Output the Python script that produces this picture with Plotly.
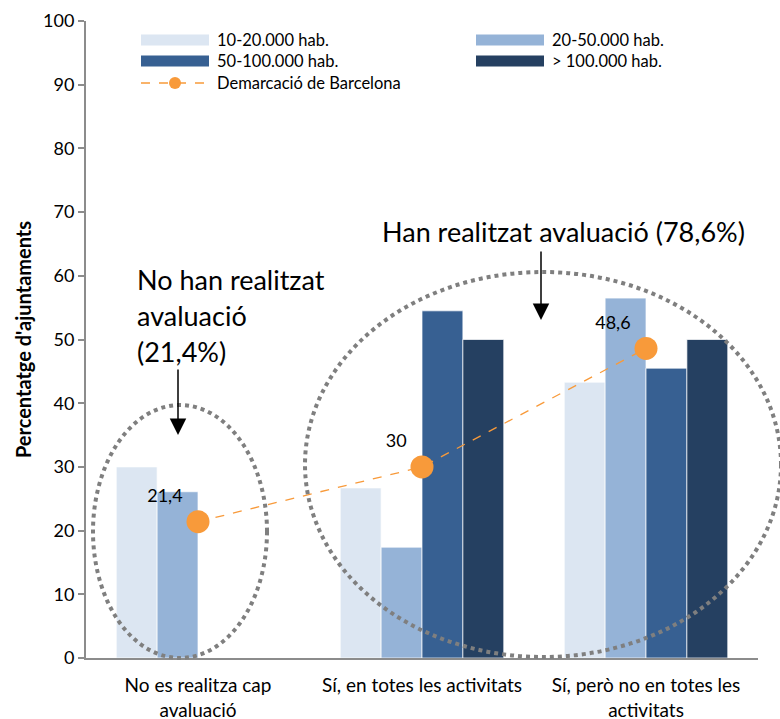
import plotly.graph_objects as go

categories = ["No es realitza cap<br>avaluació", "Sí, en totes les activitats", "Sí, però no en totes les<br>activitats"]
series_names = ["10-20.000 hab.", "20-50.000 hab.", "50-100.000 hab.", "> 100.000 hab."]
v_10_20 = [30.0, 26.7, 43.3]
v_20_50 = [26.1, 17.4, 56.5]
v_50_100 = [None, 54.5, 45.5]
v_100 = [None, 50.0, 50.0]
line_name = "Demarcació de Barcelona"
line_values = [21.4, 30.0, 48.6]
line_labels = ["21,4", "30", "48,6"]
y_ticks = [0, 10, 20, 30, 40, 50, 60, 70, 80, 90, 100]

colors = ["#DCE6F2", "#95B3D7", "#376092", "#254061"]
orange = "#F89A3A"
FONT = "Lato"

W, H = 780, 719
L, R, T, B = 86, 22, 21, 61
PW, PH = W - L - R, H - T - B


def px(x):
    return (x - L) / PW


def py(y):
    return (H - B - y) / PH


fig = go.Figure()
for name, vals, col in zip(series_names, [v_10_20, v_20_50, v_50_100, v_100], colors):
    fig.add_trace(go.Bar(
        x=categories, y=vals, name=name, marker_color=col,
        marker_line=dict(color="rgba(255,255,255,0.7)", width=1),
        showlegend=False,
    ))

fig.add_trace(go.Scatter(
    x=categories, y=line_values, name=line_name, mode="lines+markers+text",
    line=dict(color=orange, width=1.3, dash="dash"),
    marker=dict(color=orange, size=23),
    text=line_labels, textposition="top left",
    textfont=dict(family=FONT, size=18, color="#000"),
    showlegend=False, cliponaxis=False,
))

shapes = []
annotations = []

# custom legend
legend_rows = [
    (40, 141, colors[0], series_names[0]),
    (40, 476, colors[1], series_names[1]),
    (61, 141, colors[2], series_names[2]),
    (61, 476, colors[3], series_names[3]),
]
for yc, x0, col, name in legend_rows:
    shapes.append(dict(type="rect", xref="paper", yref="paper",
                       x0=px(x0), x1=px(x0 + 68), y0=py(yc + 5.5), y1=py(yc - 5.5),
                       fillcolor=col, line=dict(width=0)))
    annotations.append(dict(xref="paper", yref="paper", x=px(x0 + 74), y=py(yc),
                            text=name, showarrow=False, xanchor="left", yanchor="middle",
                            font=dict(family=FONT, size=16.5, color="#000")))
# line legend
shapes.append(dict(type="line", xref="paper", yref="paper",
                   x0=px(141), x1=px(209), y0=py(83), y1=py(83),
                   line=dict(color=orange, width=1.3, dash="dash")))
shapes.append(dict(type="circle", xref="paper", yref="paper",
                   x0=px(169), x1=px(181), y0=py(89), y1=py(77),
                   fillcolor=orange, line=dict(width=0)))
annotations.append(dict(xref="paper", yref="paper", x=px(215), y=py(83),
                        text=line_name, showarrow=False, xanchor="left", yanchor="middle",
                        font=dict(family=FONT, size=16.5, color="#000")))

# dotted ellipses
shapes.append(dict(type="circle", xref="paper", yref="paper",
                   x0=px(93), x1=px(267), y0=py(658), y1=py(405),
                   line=dict(color="#7F7F7F", width=4, dash="dot")))
shapes.append(dict(type="circle", xref="paper", yref="paper",
                   x0=px(305), x1=px(781), y0=py(657), y1=py(272),
                   line=dict(color="#7F7F7F", width=4, dash="dot")))

# group annotations
annotations.append(dict(xref="paper", yref="paper", x=px(563), y=py(231),
                        text="Han realitzat avaluació (78,6%)", showarrow=False,
                        xanchor="center", yanchor="middle",
                        font=dict(family=FONT, size=27, color="#000")))
for i, line in enumerate(["No han realitzat", "avaluació", "(21,4%)"]):
    annotations.append(dict(xref="paper", yref="paper", x=px(135), y=py(279 + 36 * i),
                            text=line, showarrow=False, xanchor="left", yanchor="middle",
                            font=dict(family=FONT, size=27, color="#000")))

# arrows
annotations.append(dict(xref="paper", yref="paper", x=px(541), y=py(320), ax=0, ay=-70,
                        text="", showarrow=True, arrowhead=2, arrowsize=2.2,
                        arrowwidth=1.5, arrowcolor="#000"))
annotations.append(dict(xref="paper", yref="paper", x=px(178), y=py(435), ax=0, ay=-67,
                        text="", showarrow=True, arrowhead=2, arrowsize=2.2,
                        arrowwidth=1.5, arrowcolor="#000"))

fig.update_layout(
    width=W, height=H,
    margin=dict(l=L, r=R, t=T, b=B, autoexpand=False),
    paper_bgcolor="white", plot_bgcolor="white",
    barmode="group", bargap=0.27, bargroupgap=0,
    font=dict(family=FONT, color="#000"),
    shapes=shapes, annotations=annotations,
)
fig.update_xaxes(
    type="category", showline=True, linecolor="#8C8C8C", linewidth=2,
    ticks="", showgrid=False, tickfont=dict(family=FONT, size=19, color="#000"),
    ticklabelstandoff=9,
)
fig.update_yaxes(
    range=[0, 100], tickvals=y_ticks, showline=True, linecolor="#8C8C8C", linewidth=2,
    ticks="outside", ticklen=6, tickcolor="#8C8C8C", tickwidth=1.5, showgrid=False,
    zeroline=False, tickfont=dict(family=FONT, size=18, color="#000"),
    title=dict(text="<b>Percentatge d'ajuntaments</b>", font=dict(family=FONT, size=20, color="#000"),
               standoff=6),
)

fig.write_html("out.html", config={"displayModeBar": False},
               post_script="document.body.style.margin='0';")
